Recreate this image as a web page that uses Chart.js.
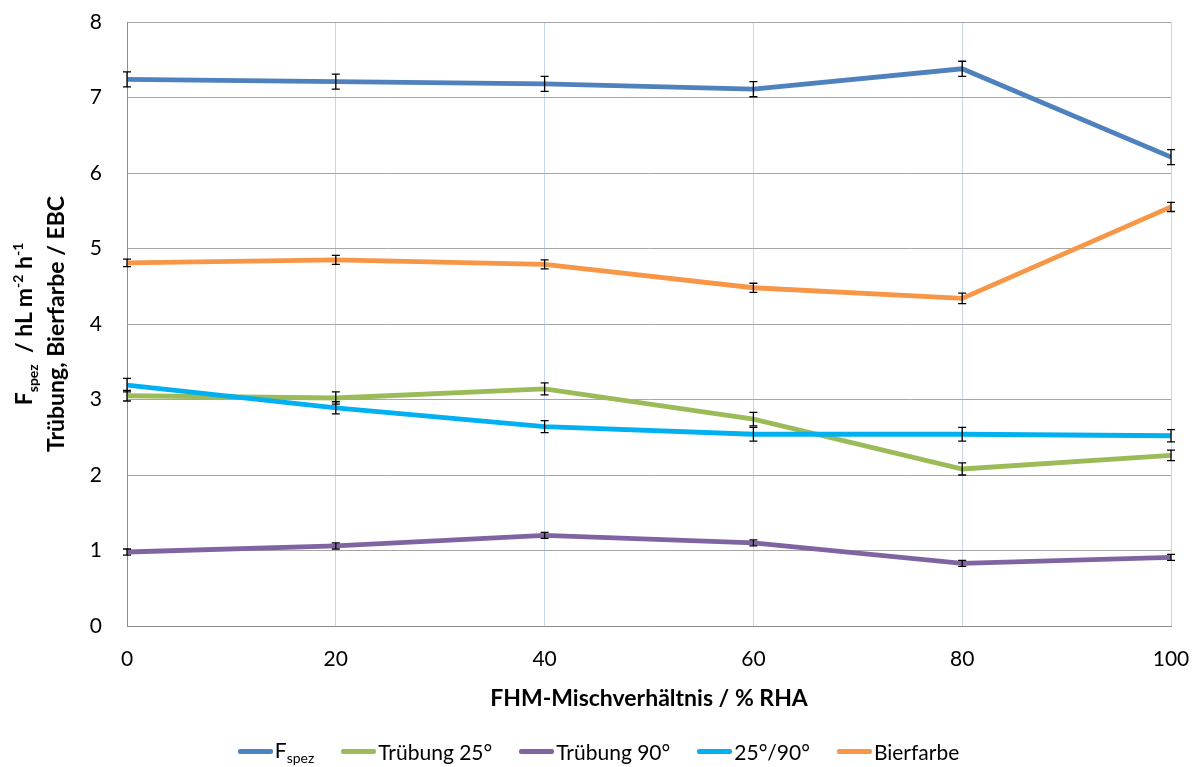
<!DOCTYPE html>
<html>
<head>
<meta charset="utf-8">
<script src="https://cdn.jsdelivr.net/npm/chart.js@4/dist/chart.umd.min.js"></script>
<style>
  body { margin: 0; background: #fff; font-family: Lato, "Open Sans", sans-serif; }
  #wrap { position: relative; width: 1197px; height: 767px; }
  #ytitle {
    position: absolute; left: 39px; top: 324px;
    transform: translate(-50%, -50%) rotate(-90deg);
    white-space: nowrap; text-align: center;
    font-weight: bold; font-size: 23px; line-height: 32px; color: #000;
  }
  #ytitle sub, #ytitle sup { font-size: 14px; line-height: 0; }
  #legend {
    position: absolute; left: 0; top: 737px; width: 1197px;
    display: flex; justify-content: center; gap: 27px;
    font-size: 21px; color: #000;
  }
  .item { display: flex; align-items: center; }
  .swatch { display: inline-block; width: 35px; height: 5px; border-radius: 2px; margin-right: 2px; }
  .item sub { font-size: 14px; }
</style>
</head>
<body>
<div id="wrap">
  <canvas id="chart" width="1197" height="767"></canvas>
  <div id="ytitle">F<sub>spez</sub> &nbsp;/ hL m<sup>-2</sup> h<sup>-1</sup><br>Trübung, Bierfarbe / EBC</div>
  <div id="legend"></div>
</div>
<script>
const mix = [0, 20, 40, 60, 80, 100];
const xTicks = [0, 20, 40, 60, 80, 100];

const fSpez = [7.24, 7.21, 7.18, 7.11, 7.38, 6.21];
const fSpezErr = [0.1, 0.1, 0.1, 0.1, 0.1, 0.1];
const trueb25 = [3.05, 3.02, 3.14, 2.74, 2.08, 2.26];
const trueb25Err = [0.07, 0.08, 0.08, 0.09, 0.08, 0.07];
const trueb90 = [0.98, 1.06, 1.2, 1.1, 0.83, 0.91];
const trueb90Err = [0.04, 0.04, 0.04, 0.04, 0.04, 0.04];
const ratio = [3.19, 2.89, 2.64, 2.54, 2.54, 2.52];
const ratioErr = [0.09, 0.08, 0.08, 0.09, 0.09, 0.08];
const bierfarbe = [4.81, 4.85, 4.79, 4.48, 4.34, 5.55];
const bierfarbeErr = [0.05, 0.06, 0.06, 0.06, 0.07, 0.06];

const series = [
  { label: "F<sub>spez</sub>", values: fSpez, errors: fSpezErr, color: "#4f81bd" },
  { label: "Trübung 25°", values: trueb25, errors: trueb25Err, color: "#9bbb59" },
  { label: "Trübung 90°", values: trueb90, errors: trueb90Err, color: "#8064a2" },
  { label: "25°/90°", values: ratio, errors: ratioErr, color: "#00b0f0" },
  { label: "Bierfarbe", values: bierfarbe, errors: bierfarbeErr, color: "#f79646" },
];

// error bars drawn on top of the lines, through the chart's own scales
const errorBars = {
  id: "errorBars",
  afterDatasetsDraw(chart) {
    const ctx = chart.ctx, y = chart.scales.y;
    ctx.save();
    ctx.strokeStyle = "#000";
    ctx.lineWidth = 1.3;
    chart.data.datasets.forEach((ds, i) => {
      chart.getDatasetMeta(i).data.forEach((pt, j) => {
        const v = ds.data[j].y, e = ds.errors[j];
        const top = y.getPixelForValue(v + e), bot = y.getPixelForValue(v - e);
        ctx.beginPath();
        ctx.moveTo(pt.x, top); ctx.lineTo(pt.x, bot);
        ctx.moveTo(pt.x - 4, top); ctx.lineTo(pt.x + 4, top);
        ctx.moveTo(pt.x - 4, bot); ctx.lineTo(pt.x + 4, bot);
        ctx.stroke();
      });
    });
    ctx.restore();
  }
};

new Chart(document.getElementById("chart"), {
  type: "line",
  data: {
    datasets: series.map((s, i) => ({
      label: s.label,
      data: mix.map((x, j) => ({ x, y: s.values[j] })),
      errors: s.errors,
      borderColor: s.color,
      borderWidth: 4.8,
      pointRadius: 0,
      tension: 0,
      order: series.length - i,
    })),
  },
  options: {
    responsive: false,
    animation: false,
    devicePixelRatio: 1,
    layout: { padding: { left: 0, right: 26, top: 22, bottom: 51 } },
    plugins: { legend: { display: false }, tooltip: { enabled: false } },
    scales: {
      x: {
        type: "linear", min: 0, max: 100,
        afterBuildTicks: s => { s.ticks = xTicks.map(v => ({ value: v })); },
        afterFit: s => { s.height = 90; },
        grid: { color: "#c6d6ee", tickLength: 18, tickColor: "rgba(0,0,0,0)" },
        border: { color: "#8c8c8c" },
        ticks: { color: "#000", font: { family: "Lato", size: 21 }, padding: 3, maxRotation: 0 },
        title: { display: true, text: "FHM-Mischverhältnis / % RHA", color: "#000",
                 font: { family: "Lato", size: 23, weight: "bold" }, padding: { top: 0, bottom: 4 } },
      },
      y: {
        min: 0, max: 8,
        ticks: { stepSize: 1, color: "#000", font: { family: "Lato", size: 21 }, padding: 3 },
        afterFit: s => { s.width = 127; },
        grid: { color: "#a6a6a6", tickLength: 22, tickColor: "rgba(0,0,0,0)" },
        border: { color: "#8c8c8c" },
      },
    },
  },
  plugins: [errorBars],
});

document.getElementById("legend").innerHTML = series.map(s =>
  `<div class="item"><span class="swatch" style="background:${s.color}"></span><span>${s.label}</span></div>`).join("");
</script>
</body>
</html>
